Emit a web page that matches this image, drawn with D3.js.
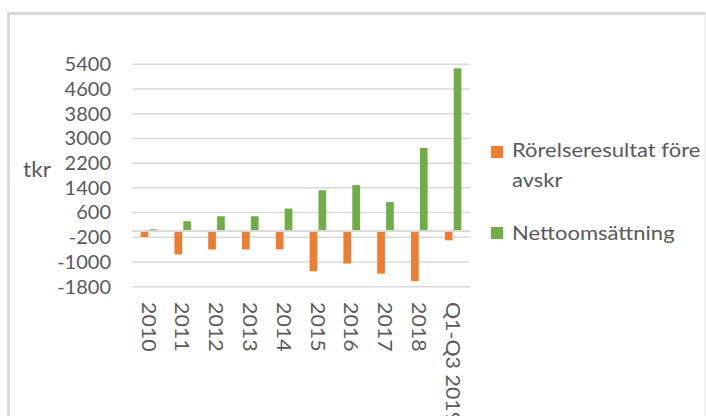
<html>
<head><meta charset="utf-8"></head>
<script src="https://d3js.org/d3.v7.min.js"></script>
<style>
  body { margin: 0; background: #fff; }
  text { font-family: Lato, "Open Sans", sans-serif; fill: #595959; }
</style>
<body>
<svg width=706 height=416></svg>
</body>
<script>

var categories = ["2010","2011","2012","2013","2014","2015","2016","2017","2018","Q1-Q3 2019"];
var seriesNames = ["Rörelseresultat före avskr", "Nettoomsättning"];
var rorelse = [-190, -755, -595, -595, -590, -1300, -1050, -1380, -1620, -300];
var netto = [60, 320, 480, 480, 730, 1320, 1490, 940, 2690, 5270];
var yTicks = [5400, 4600, 3800, 3000, 2200, 1400, 600, -200, -1000, -1800];
var colors = ["#ED7D31", "#70AD47"];

var svg = d3.select("svg");

// frame (cropped chart border)
svg.append("rect").attr("x",7).attr("y",12).attr("width",700).attr("height",3).attr("fill","#d9d9d9");
svg.append("rect").attr("x",7).attr("y",12).attr("width",3).attr("height",410).attr("fill","#d9d9d9");
svg.append("rect").attr("x",704.5).attr("y",12).attr("width",1).attr("height",410).attr("fill","#e6e6e6");

var x0 = d3.scaleBand().domain(categories).range([132, 470]);
var x1 = d3.scaleBand().domain([0,1]).range([0, x0.bandwidth()])
  .paddingInner(0.135).paddingOuter(0.966);
var y = d3.scaleLinear().domain([-1800, 5400]).range([286.7, 64.3]);

// gridlines
svg.append("g").selectAll("line").data(yTicks).enter().append("line")
  .attr("x1",132).attr("x2",470)
  .attr("y1",function(d){return y(d);}).attr("y2",function(d){return y(d);})
  .attr("stroke","#d9d9d9").attr("stroke-width",1.5);

// y axis labels
var yAxis = d3.axisLeft(y).tickValues(yTicks).tickSize(0).tickPadding(0)
  .tickFormat(function(d){ return String(d); });
var ya = svg.append("g").attr("transform","translate(111,0)").call(yAxis);
ya.select(".domain").remove();
ya.selectAll("text").style("font-size","20px").attr("fill","#595959")
  .style("font-family","Lato, sans-serif");

svg.append("text").attr("transform","translate(23,177) scale(1.08,1)").style("font-size","21px").text("tkr");

// bars
var data = categories.map(function(c,i){ return {cat:c, vals:[rorelse[i], netto[i]]}; });
var groups = svg.append("g").selectAll("g").data(data).enter().append("g")
  .attr("transform",function(d){return "translate("+x0(d.cat)+",0)";});
groups.selectAll("rect").data(function(d){return d.vals;}).enter().append("rect")
  .attr("x",function(d,i){return x1(i);})
  .attr("width",x1.bandwidth())
  .attr("y",function(d){return y(Math.max(0,d));})
  .attr("height",function(d){return Math.abs(y(d)-y(0));})
  .attr("fill",function(d,i){return colors[i];});

// zero axis line
svg.append("line").attr("x1",132).attr("x2",470).attr("y1",y(0)).attr("y2",y(0))
  .attr("stroke","#d9d9d9").attr("stroke-width",2);

// category labels, rotated
svg.append("g").selectAll("text").data(categories).enter().append("text")
  .attr("transform",function(d){return "translate("+(x0(d)+x0.bandwidth()/2)+",302) rotate(90) scale(1.07,1)";})
  .attr("dy","0.36em")
  .style("font-size","20px")
  .text(function(d){return d;});

// legend
var legend = svg.append("g");
legend.append("rect").attr("x",491).attr("y",146).attr("width",12).attr("height",12).attr("fill",colors[0]);
legend.append("text").attr("transform","translate(512,157) scale(1.1,1)").style("font-size","20px").text("Rörelseresultat före");
legend.append("text").attr("transform","translate(512,187) scale(1.1,1)").style("font-size","20px").text("avskr");
legend.append("rect").attr("x",491).attr("y",227).attr("width",12).attr("height",12).attr("fill",colors[1]);
legend.append("text").attr("transform","translate(512,240) scale(1.1,1)").style("font-size","20px").text("Nettoomsättning");

</script>
</html>
